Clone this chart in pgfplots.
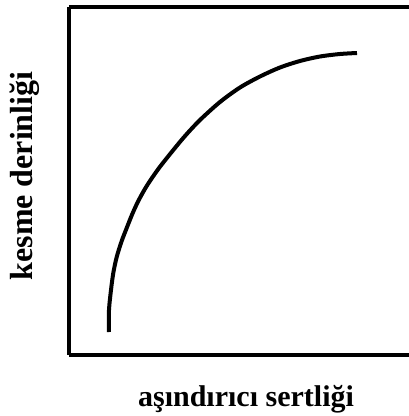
\documentclass[border=0pt]{standalone}
\usepackage{fontspec}
\setmainfont{Liberation Serif}
\usepackage{pgfplots}
\pgfplotsset{compat=1.18}

\begin{document}
\begin{tikzpicture}
\begin{axis}[
    scale only axis,
    width=340bp, height=348bp,
    xmin=69, xmax=409,
    ymin=7, ymax=355,
    y dir=reverse,
    axis y line*=left,
    axis line style={line width=4bp},
    xtick=\empty, ytick=\empty,
    clip=false,
    xlabel={aşındırıcı sertliği},
    xlabel style={at={(axis cs:246,406)}, anchor=base,
        font=\bfseries\fontsize{30bp}{34bp}\selectfont},
    ylabel={kesme derinliği},
    ylabel style={at={(axis cs:33,176)}, anchor=base, rotate=0,
        font=\bfseries\fontsize{32bp}{36bp}\selectfont},
]
% curve, in pixel units
\addplot[black, line width=4bp, smooth, tension=0.5] coordinates {
    (109,332) (109,310) (111,290) (113.3,273) (116.7,257) (121.7,241)
    (126.7,228) (132.3,214) (138.3,201) (146.7,186) (158.3,169)
    (171.7,152) (185,136) (200,120) (220,102) (240,87.5) (260,76.5)
    (280,67.5) (300,61) (320,56.5) (340,54) (357,53)
};
\coordinate (bl) at (axis cs:0,416);
\coordinate (tr) at (axis cs:409,0);
\end{axis}
\pgfresetboundingbox
\path[use as bounding box] (bl) rectangle (tr);
\end{tikzpicture}
\end{document}
